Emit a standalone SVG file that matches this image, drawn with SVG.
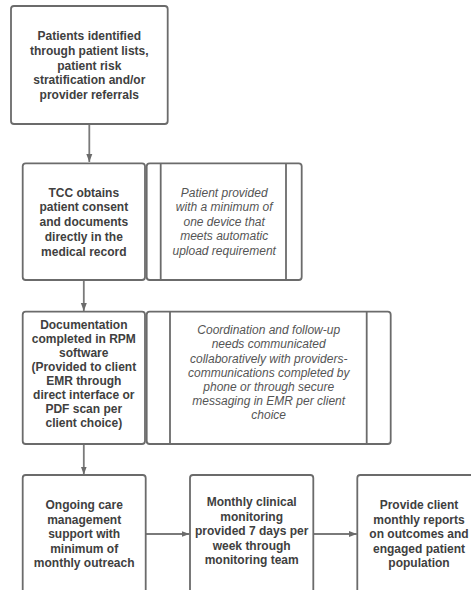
<svg xmlns="http://www.w3.org/2000/svg" width="471" height="590" viewBox="0 0 471 590">
  <style>
    .box { fill: #ffffff; stroke: #6b6b6b; stroke-width: 1.8; }
    .rule { stroke: #6b6b6b; stroke-width: 1.8; fill: none; }
    .link { stroke: #7a7a7a; stroke-width: 1.8; fill: none; }
    .bold { font-family: "Liberation Sans", Arial, sans-serif; font-size: 12px; font-weight: bold; fill: #404040; text-anchor: middle; }
    .note { font-family: "Liberation Sans", Arial, sans-serif; font-size: 12px; font-style: italic; fill: #555555; text-anchor: middle; }
  </style>
  <defs>
    <marker id="arrow" viewBox="0 0 8 8" refX="8" refY="4" markerWidth="8" markerHeight="8" markerUnits="userSpaceOnUse" orient="auto">
      <path d="M0,1 L8,4 L0,7 Z" fill="#6b6b6b"/>
    </marker>
  </defs>
  <rect width="471" height="590" fill="#ffffff"/>

  <g id="connectors">
    <line class="link" x1="89.3" y1="124" x2="89.3" y2="162" marker-end="url(#arrow)"/>
    <line class="link" x1="83.8" y1="280" x2="83.8" y2="311" marker-end="url(#arrow)"/>
    <line class="link" x1="83.8" y1="444" x2="83.8" y2="474.5" marker-end="url(#arrow)"/>
    <line class="link" x1="145.7" y1="534" x2="189.5" y2="534" marker-end="url(#arrow)"/>
    <line class="link" x1="313.3" y1="534" x2="356.8" y2="534" marker-end="url(#arrow)"/>
  </g>

  <g id="identify">
    <rect class="box" x="11" y="6" width="156.7" height="118" rx="3"/>
    <text class="bold" x="89.3" y="40">Patients identified</text>
    <text class="bold" x="89.3" y="54.8">through patient lists,</text>
    <text class="bold" x="89.3" y="69.6">patient risk</text>
    <text class="bold" x="89.3" y="84.4">stratification and/or</text>
    <text class="bold" x="89.3" y="99.2">provider referrals</text>
  </g>

  <g id="consent">
    <rect class="box" x="22.7" y="163.3" width="122.3" height="116.7" rx="3"/>
    <text class="bold" x="83.8" y="196.5">TCC obtains</text>
    <text class="bold" x="83.8" y="211.3">patient consent</text>
    <text class="bold" x="83.8" y="226.1">and documents</text>
    <text class="bold" x="83.8" y="240.9">directly in the</text>
    <text class="bold" x="83.8" y="255.7">medical record</text>
  </g>

  <g id="device">
    <rect class="box" x="146.7" y="163.3" width="155" height="116.7" rx="3"/>
    <line class="rule" x1="160.7" y1="163.3" x2="160.7" y2="280"/>
    <line class="rule" x1="286" y1="163.3" x2="286" y2="280"/>
    <text class="note" x="224.2" y="196.5">Patient provided</text>
    <text class="note" x="224.2" y="211">with a minimum of</text>
    <text class="note" x="224.2" y="225.5">one device that</text>
    <text class="note" x="224.2" y="240">meets automatic</text>
    <text class="note" x="224.2" y="254.5">upload requirement</text>
  </g>

  <g id="documentation">
    <rect class="box" x="22.7" y="311.7" width="122.3" height="132.3" rx="3"/>
    <text class="bold" x="83.8" y="329.3">Documentation</text>
    <text class="bold" x="83.8" y="343.3">completed in RPM</text>
    <text class="bold" x="83.8" y="357.3">software</text>
    <text class="bold" x="83.8" y="371.3">(Provided to client</text>
    <text class="bold" x="83.8" y="385.3">EMR through</text>
    <text class="bold" x="83.8" y="399.3">direct interface or</text>
    <text class="bold" x="83.8" y="413.3">PDF scan per</text>
    <text class="bold" x="83.8" y="427.3">client choice)</text>
  </g>

  <g id="coordination">
    <rect class="box" x="146.7" y="311.7" width="244" height="132.3" rx="3"/>
    <line class="rule" x1="170" y1="311.7" x2="170" y2="444"/>
    <line class="rule" x1="366.7" y1="311.7" x2="366.7" y2="444"/>
    <text class="note" x="268.7" y="334.2">Coordination and follow-up</text>
    <text class="note" x="268.7" y="348.4">needs communicated</text>
    <text class="note" x="268.7" y="362.6">collaboratively with providers-</text>
    <text class="note" x="268.7" y="376.8">communications completed by</text>
    <text class="note" x="268.7" y="391">phone or through secure</text>
    <text class="note" x="268.7" y="405.2">messaging in EMR per client</text>
    <text class="note" x="268.7" y="419.4">choice</text>
  </g>

  <g id="care-management">
    <rect class="box" x="22.7" y="475" width="123" height="130" rx="3"/>
    <text class="bold" x="84.2" y="509.3">Ongoing care</text>
    <text class="bold" x="84.2" y="523.8">management</text>
    <text class="bold" x="84.2" y="538.3">support with</text>
    <text class="bold" x="84.2" y="552.8">minimum of</text>
    <text class="bold" x="84.2" y="567.3">monthly outreach</text>
  </g>

  <g id="monitoring">
    <rect class="box" x="190" y="475" width="123.3" height="130" rx="3"/>
    <text class="bold" x="251.7" y="506">Monthly clinical</text>
    <text class="bold" x="251.7" y="520.5">monitoring</text>
    <text class="bold" x="251.7" y="535">provided 7 days per</text>
    <text class="bold" x="251.7" y="549.5">week through</text>
    <text class="bold" x="251.7" y="564">monitoring team</text>
  </g>

  <g id="reports">
    <rect class="box" x="357.3" y="475" width="123" height="130" rx="3"/>
    <text class="bold" x="419" y="509.3">Provide client</text>
    <text class="bold" x="419" y="523.8">monthly reports</text>
    <text class="bold" x="419" y="538.3">on outcomes and</text>
    <text class="bold" x="419" y="552.8">engaged patient</text>
    <text class="bold" x="419" y="567.3">population</text>
  </g>
</svg>
